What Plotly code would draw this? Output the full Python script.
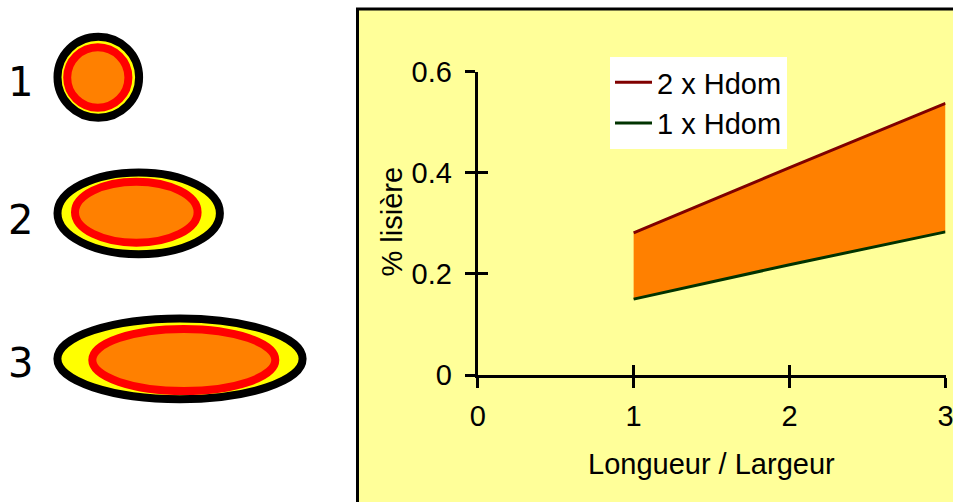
import plotly.graph_objects as go

# ---- data ----
ratio = [1, 2, 3]                     # Longueur / Largeur
hdom2 = [0.281, 0.410, 0.537]         # 2 x Hdom
hdom1 = [0.150, 0.218, 0.283]         # 1 x Hdom
series_names = ["2 x Hdom", "1 x Hdom"]
x_ticks = [0, 1, 2, 3]
y_ticks = [0, 0.2, 0.4, 0.6]
y_ticklabels = ["0", "0.2", "0.4", "0.6"]
shape_labels = ["1", "2", "3"]

W, H = 953, 502

def px(x):
    return x / W

def py(y):
    return 1 - y / H

FONT = "Liberation Sans, Arial, sans-serif"
TXT = 29

fig = go.Figure()

# orange band between the two curves
fig.add_trace(go.Scatter(x=ratio, y=hdom1, mode="lines", line=dict(width=0, color="#FF8000"),
                         showlegend=False, hoverinfo="skip"))
fig.add_trace(go.Scatter(x=ratio, y=hdom2, mode="lines", line=dict(width=0, color="#FF8000"),
                         fill="tonexty", fillcolor="#FF8000", showlegend=False, hoverinfo="skip"))
# curves
fig.add_trace(go.Scatter(x=ratio, y=hdom2, mode="lines", name=series_names[0],
                         line=dict(color="#800000", width=3)))
fig.add_trace(go.Scatter(x=ratio, y=hdom1, mode="lines", name=series_names[1],
                         line=dict(color="#003300", width=3)))
# dummy trace for overlay axes (inside half of crossing ticks)
fig.add_trace(go.Scatter(x=[None], y=[None], xaxis="x2", yaxis="y2", showlegend=False,
                         hoverinfo="skip"))

xdom = [px(477.7), px(945.5)]
ydom = [py(375), py(71.5)]

axis_common = dict(showgrid=False, zeroline=False, tickcolor="black", tickwidth=3, ticklen=10)

fig.update_layout(
    width=W, height=H,
    margin=dict(l=0, r=0, t=0, b=0),
    paper_bgcolor="white",
    plot_bgcolor="rgba(0,0,0,0)",
    font=dict(family=FONT, size=TXT, color="black"),
    xaxis=dict(domain=xdom, range=[0, 3], tickvals=x_ticks, ticks="outside",
               showline=True, linecolor="black", linewidth=3, automargin=False,
               ticklabelstandoff=3, ticklabeloverflow="allow",
               tickfont=dict(size=TXT, family=FONT), **axis_common),
    yaxis=dict(domain=ydom, range=[0, 0.6], tickvals=y_ticks, ticktext=y_ticklabels,
               ticks="outside", showline=True, linecolor="black", linewidth=3,
               automargin=False, ticklabelstandoff=7, ticklabeloverflow="allow",
               tickfont=dict(size=TXT, family=FONT), **axis_common),
    xaxis2=dict(overlaying="x", anchor="y2", range=[0, 3], tickvals=x_ticks, ticks="inside",
                showticklabels=False, showline=False, automargin=False, **axis_common),
    yaxis2=dict(overlaying="y", anchor="x2", side="left", range=[0, 0.6], tickvals=y_ticks,
                ticks="inside", showticklabels=False, showline=False, automargin=False,
                **axis_common),
    legend=dict(x=px(610), y=py(57), xanchor="left", yanchor="top",
                bgcolor="white", borderwidth=0, traceorder="normal", itemwidth=37,
                font=dict(size=TXT, family=FONT, color="black")),
    showlegend=True,
)

shapes = []
# yellow panel with black border
shapes.append(dict(type="rect", xref="paper", yref="paper", layer="below",
                   x0=px(357.5), x1=px(W + 20), y0=py(H + 20), y1=py(9),
                   fillcolor="#FFFF99", line=dict(color="black", width=3)))

def ellipse(cx, cy, rx, ry, fill, color, width):
    return dict(type="circle", xref="paper", yref="paper", layer="above",
                x0=px(cx - rx), x1=px(cx + rx), y0=py(cy + ry), y1=py(cy - ry),
                fillcolor=fill, line=dict(color=color, width=width))

# illustrative shapes (1, 2, 3)
shapes.append(ellipse(98.3, 77.2, 40.8, 40.5, "#FFFF00", "black", 8))
shapes.append(ellipse(97.8, 77.5, 30.6, 30.3, "#FF8000", "#FF0000", 8))
shapes.append(ellipse(138.7, 213.3, 81.2, 40.9, "#FFFF00", "black", 8))
shapes.append(ellipse(136.3, 212.2, 61.3, 30.5, "#FF8000", "#FF0000", 8))
shapes.append(ellipse(180.0, 358.8, 122.6, 40.4, "#FFFF00", "black", 8))
shapes.append(ellipse(183.8, 360.0, 91.5, 31.0, "#FF8000", "#FF0000", 8))
fig.update_layout(shapes=shapes)

annotations = []
for lab, cy in zip(shape_labels, [82.5, 220.0, 363.0]):
    annotations.append(dict(text=lab, xref="paper", yref="paper", x=px(20), y=py(cy),
                            xanchor="center", yanchor="middle", showarrow=False,
                            font=dict(family="DejaVu Sans, Verdana, sans-serif", size=40,
                                      color="black")))
# axis titles
annotations.append(dict(text="Longueur / Largeur", xref="paper", yref="paper",
                        x=px(711.5), y=py(464), xanchor="center", yanchor="middle",
                        showarrow=False, font=dict(family=FONT, size=TXT, color="black")))
annotations.append(dict(text="% lisière", xref="paper", yref="paper",
                        x=px(391), y=py(221.5), xanchor="center", yanchor="middle",
                        textangle=-90, showarrow=False,
                        font=dict(family=FONT, size=TXT, color="black")))
fig.update_layout(annotations=annotations)

fig.write_html("out.html", config={"displayModeBar": False},
               post_script="document.body.style.margin='0';document.body.style.overflow='hidden';")
